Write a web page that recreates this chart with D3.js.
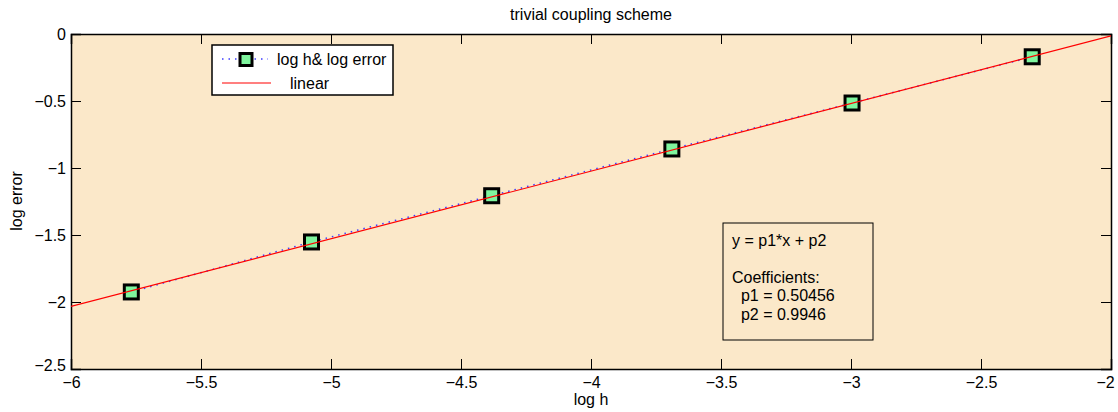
<html>
<head>
<style type="text/css">
  body { margin: 0; background: #fff; }
  text { font-family: "Liberation Sans", Arial, Helvetica, sans-serif; fill: #000; }
</style>
</head>
<body>
<svg id="chart" width="1118" height="412"></svg>
<script src="https://cdn.jsdelivr.net/npm/d3@7"></script>
<script>
  // DATA
  var logH = [-5.768, -5.075, -4.382, -3.689, -2.996, -2.303];
  var logErr = [-1.925, -1.552, -1.207, -0.858, -0.515, -0.170];
  var fitCoef = [0.50456, 0.9946];
  var fitX = [-6, -2];
  var xTicks = [-6, -5.5, -5, -4.5, -4, -3.5, -3, -2.5, -2];
  var yTicks = [0, -0.5, -1, -1.5, -2, -2.5];
  var legendLabels = ["log h& log error", "linear"];
  var infoLines = ["y = p1*x + p2", "", "Coefficients:", "  p1 = 0.50456", "  p2 = 0.9946"];

  var svg = d3.select("#chart");
  var pLeft = 71, pRight = 1111, pTop = 34, pBottom = 369;
  var fs = 16;

  var x = d3.scaleLinear().domain([-6, -2]).range([pLeft, pRight]);
  var y = d3.scaleLinear().domain([-2.5, 0]).range([pBottom, pTop]);

  // plot background
  svg.append("rect")
    .attr("x", pLeft).attr("y", pTop)
    .attr("width", pRight - pLeft).attr("height", pBottom - pTop)
    .attr("fill", "#fbe8c9");

  // axes with inward ticks on all four sides
  var fmt = function(d) { return String(d).replace("-", "\u2212"); };
  var axB = svg.append("g").attr("transform", "translate(0," + pBottom + ")")
    .call(d3.axisBottom(x).tickValues(xTicks).tickSize(-10).tickPadding(8).tickFormat(fmt));
  var axT = svg.append("g").attr("transform", "translate(0," + pTop + ")")
    .call(d3.axisTop(x).tickValues(xTicks).tickSize(-10).tickFormat(""));
  var axL = svg.append("g").attr("transform", "translate(" + pLeft + ",0)")
    .call(d3.axisLeft(y).tickValues(yTicks).tickSize(-10).tickFormat(fmt));
  var axR = svg.append("g").attr("transform", "translate(" + pRight + ",0)")
    .call(d3.axisRight(y).tickValues(yTicks).tickSize(-10).tickFormat(""));

  [axB, axT, axL, axR].forEach(function(a) {
    a.select(".domain").attr("stroke", "#000").attr("stroke-width", 1.5);
    a.selectAll(".tick line").attr("stroke", "#000");
    a.selectAll("text").attr("font-size", fs).attr("fill", "#000")
      .style("font-family", "'Liberation Sans', Arial, sans-serif");
  });
  axB.selectAll(".tick text").attr("y", 8);
  // -2.5 label sits a little above the corner, -2 label tucked in at the right edge
  axL.selectAll(".tick text").attr("dy", function(d) { return d === -2.5 ? "0.1em" : "0.32em"; })
    .attr("x", -5);
  axB.selectAll(".tick text").filter(function(d) { return d === -2; }).attr("dx", -6);

  // clip for fit line
  svg.append("clipPath").attr("id", "clip")
    .append("rect").attr("x", pLeft).attr("y", pTop)
    .attr("width", pRight - pLeft).attr("height", pBottom - pTop);

  var line = d3.line().x(function(d) { return x(d[0]); }).y(function(d) { return y(d[1]); });

  // data polyline (dotted blue)
  var pts = logH.map(function(v, i) { return [v, logErr[i]]; });
  svg.append("path")
    .attr("d", line(pts))
    .attr("fill", "none")
    .attr("stroke", "#3c3cff")
    .attr("stroke-width", 1.5)
    .attr("stroke-dasharray", "1.5,5");

  // markers
  svg.selectAll("rect.mk")
    .data(pts)
    .enter()
    .append("rect")
    .attr("class", "mk")
    .attr("x", function(d) { return x(d[0]) - 7; })
    .attr("y", function(d) { return y(d[1]) - 7; })
    .attr("width", 14).attr("height", 14)
    .attr("fill", "#7ff59e")
    .attr("stroke", "#000")
    .attr("stroke-width", 3);

  // fitted line (red)
  var fitPts = fitX.map(function(v) { return [v, fitCoef[0] * v + fitCoef[1]]; });
  svg.append("path")
    .attr("d", line(fitPts))
    .attr("clip-path", "url(#clip)")
    .attr("fill", "none")
    .attr("stroke", "#ff0000")
    .attr("stroke-width", 1.2);

  // title and axis labels
  svg.append("text").attr("x", 591).attr("y", 20).attr("text-anchor", "middle")
    .attr("font-size", 16).text("trivial coupling scheme");
  svg.append("text").attr("x", 591).attr("y", 405).attr("text-anchor", "middle")
    .attr("font-size", fs).text("log h");
  svg.append("text").attr("transform", "translate(22,201) rotate(-90)").attr("text-anchor", "middle")
    .attr("font-size", fs).text("log error");

  // legend
  var lg = svg.append("g");
  lg.append("rect").attr("x", 212).attr("y", 45).attr("width", 181).attr("height", 50)
    .attr("fill", "#fff").attr("stroke", "#000").attr("stroke-width", 1.5);
  lg.append("line").attr("x1", 222).attr("x2", 268).attr("y1", 59).attr("y2", 59)
    .attr("stroke", "#3c3cff").attr("stroke-width", 1.5).attr("stroke-dasharray", "1.5,5");
  lg.append("rect").attr("x", 240).attr("y", 53.5).attr("width", 12).attr("height", 12)
    .attr("fill", "#7ff59e").attr("stroke", "#000").attr("stroke-width", 3);
  lg.append("line").attr("x1", 222).attr("x2", 271).attr("y1", 83).attr("y2", 83)
    .attr("stroke", "#ff0000").attr("stroke-width", 1.2);
  lg.append("text").attr("x", 277).attr("y", 65).attr("font-size", fs).text(legendLabels[0]);
  lg.append("text").attr("x", 290).attr("y", 89).attr("font-size", fs).text(legendLabels[1]);

  // info box
  var ib = svg.append("g");
  ib.append("rect").attr("x", 723).attr("y", 223).attr("width", 150).attr("height", 117)
    .attr("fill", "none").attr("stroke", "#000").attr("stroke-width", 1);
  ib.selectAll("text").data(infoLines).enter().append("text")
    .attr("x", 732)
    .attr("y", function(d, i) { return 245.5 + i * 18.5; })
    .attr("font-size", fs)
    .attr("xml:space", "preserve")
    .style("white-space", "pre")
    .text(function(d) { return d; });
</script>
</body>
</html>
